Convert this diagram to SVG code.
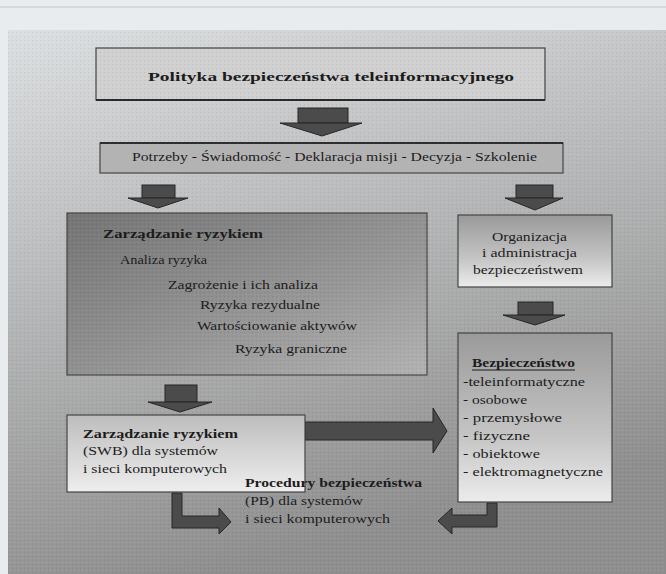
<svg xmlns="http://www.w3.org/2000/svg" width="666" height="574" viewBox="0 0 666 574">
<defs>
<linearGradient id="bg" x1="0" y1="0" x2="0.3" y2="1">
<stop offset="0" stop-color="#dcdfe1"/>
<stop offset="0.45" stop-color="#b8b9ba"/>
<stop offset="1" stop-color="#8f8f8f"/>
</linearGradient>
<linearGradient id="risk" x1="0" y1="0" x2="1" y2="1">
<stop offset="0" stop-color="#747474"/>
<stop offset="0.6" stop-color="#979797"/>
<stop offset="1" stop-color="#b2b2b2"/>
</linearGradient>
<linearGradient id="lightbox" x1="0" y1="0" x2="0" y2="1">
<stop offset="0" stop-color="#9a9a9a"/>
<stop offset="0.6" stop-color="#c4c4c4"/>
<stop offset="1" stop-color="#ececec"/>
</linearGradient>
<linearGradient id="swb" x1="0" y1="0" x2="0" y2="1">
<stop offset="0" stop-color="#bdbdbd"/>
<stop offset="1" stop-color="#eeeeee"/>
</linearGradient>
<pattern id="dots" width="4" height="4" patternUnits="userSpaceOnUse">
<rect x="0" y="0" width="1" height="1" fill="#000" fill-opacity="0.08"/>
<rect x="2" y="2" width="1" height="1" fill="#fff" fill-opacity="0.12"/>
</pattern>
</defs>
<style>
.t{font-family:"Liberation Serif","Times New Roman",serif;fill:#1c1c1c;font-size:13px}
.b{font-weight:bold}
.box{stroke:#454545;stroke-width:1.2}
.arr{fill:#4b4b4b;stroke:#262626;stroke-width:1}
</style>
<rect x="0" y="0" width="666" height="574" fill="#e8ecef"/>
<line x1="0" y1="7" x2="666" y2="7" stroke="#bfc5ca" stroke-width="1"/>
<rect x="8" y="30" width="658" height="544" fill="url(#bg)"/>
<rect x="8" y="30" width="658" height="544" fill="url(#dots)"/>

<g id="connectors">
<g id="arrow-title-band"><rect class="arr" x="298" y="108" width="50" height="15"/><polygon class="arr" points="280,123 362,123 322,136"/></g>
<g id="arrow-band-risk"><rect class="arr" x="142" y="185" width="33" height="13"/><polygon class="arr" points="128,198 188,198 158,208"/></g>
<g id="arrow-band-org"><rect class="arr" x="516" y="185" width="37" height="13"/><polygon class="arr" points="505,198 563,198 535,210"/></g>
<g id="arrow-risk-swb"><rect class="arr" x="165" y="385" width="32" height="17"/><polygon class="arr" points="148,402 212,402 180,412"/></g>
<g id="arrow-org-bez"><rect class="arr" x="518" y="302" width="35" height="13"/><polygon class="arr" points="503,315 565,315 535,325"/></g>
<g id="arrow-swb-bez"><polygon class="arr" points="305,422 433,422 433,408 447,431 433,453 433,440 305,440"/></g>
<g id="arrow-swb-pb"><polygon class="arr" points="172,493 182,493 182,516 219,516 219,508 231,522 219,534 219,528 172,528"/></g>
<g id="arrow-bez-pb"><polygon class="arr" points="487,503 497,503 497,527 452,527 452,534 438,521 452,508 452,515 487,515"/></g>
</g>

<g id="title">
<rect class="box" x="96" y="48" width="449" height="52" fill="#d0d0d0"/>
<rect x="96" y="48" width="449" height="52" fill="url(#dots)"/>
<line x1="96" y1="100" x2="545" y2="100" stroke="#2a2a2a" stroke-width="2"/>
<text class="t b" x="148" y="81" font-size="17" textLength="366" lengthAdjust="spacingAndGlyphs">Polityka bezpieczeństwa teleinformacyjnego</text>
</g>

<g id="band">
<rect class="box" x="100" y="143" width="463" height="30" fill="#b3b3b3"/>
<line x1="100" y1="143" x2="563" y2="143" stroke="#2e2e2e" stroke-width="2"/>
<text class="t" x="132" y="161" textLength="405" lengthAdjust="spacingAndGlyphs">Potrzeby - Świadomość - Deklaracja misji - Decyzja - Szkolenie</text>
</g>

<g id="risk">
<rect class="box" x="67" y="213" width="360" height="162" fill="url(#risk)"/>
<rect x="67" y="213" width="360" height="162" fill="url(#dots)"/>
<text class="t b" x="103" y="238" textLength="160" lengthAdjust="spacingAndGlyphs">Zarządzanie ryzykiem</text>
<text class="t" x="120" y="264" textLength="87" lengthAdjust="spacingAndGlyphs">Analiza ryzyka</text>
<text class="t" x="168" y="289" textLength="150" lengthAdjust="spacingAndGlyphs">Zagrożenie i ich analiza</text>
<text class="t" x="200" y="309" textLength="120" lengthAdjust="spacingAndGlyphs">Ryzyka rezydualne</text>
<text class="t" x="197" y="330" textLength="160" lengthAdjust="spacingAndGlyphs">Wartościowanie aktywów</text>
<text class="t" x="235" y="353" textLength="112" lengthAdjust="spacingAndGlyphs">Ryzyka graniczne</text>
</g>

<g id="org">
<rect class="box" x="458" y="215" width="154" height="72" fill="url(#lightbox)"/>
<text class="t" x="492" y="241" textLength="75" lengthAdjust="spacingAndGlyphs">Organizacja</text>
<text class="t" x="482" y="257" textLength="95" lengthAdjust="spacingAndGlyphs">i administracja</text>
<text class="t" x="473" y="274" textLength="110" lengthAdjust="spacingAndGlyphs">bezpieczeństwem</text>
</g>

<g id="bez">
<rect class="box" x="458" y="333" width="154" height="169" fill="url(#lightbox)"/>
<text class="t b" x="472" y="367" textLength="103" lengthAdjust="spacingAndGlyphs">Bezpieczeństwo</text>
<line x1="472" y1="370" x2="575" y2="370" stroke="#1c1c1c" stroke-width="1"/>
<text class="t" x="463" y="386" textLength="122" lengthAdjust="spacingAndGlyphs">-teleinformatyczne</text>
<text class="t" x="463" y="404" textLength="64" lengthAdjust="spacingAndGlyphs">- osobowe</text>
<text class="t" x="463" y="422" textLength="99" lengthAdjust="spacingAndGlyphs">- przemysłowe</text>
<text class="t" x="463" y="440" textLength="67" lengthAdjust="spacingAndGlyphs">- fizyczne</text>
<text class="t" x="463" y="458" textLength="77" lengthAdjust="spacingAndGlyphs">- obiektowe</text>
<text class="t" x="463" y="476" textLength="140" lengthAdjust="spacingAndGlyphs">- elektromagnetyczne</text>
</g>

<g id="swb">
<rect class="box" x="67" y="415" width="238" height="77" fill="url(#swb)"/>
<text class="t b" x="83" y="438" textLength="155" lengthAdjust="spacingAndGlyphs">Zarządzanie ryzykiem</text>
<text class="t" x="83" y="455" textLength="135" lengthAdjust="spacingAndGlyphs">(SWB) dla systemów</text>
<text class="t" x="83" y="473" textLength="144" lengthAdjust="spacingAndGlyphs">i sieci komputerowych</text>
</g>

<g id="pb">
<text class="t b" x="245" y="487" textLength="177" lengthAdjust="spacingAndGlyphs">Procedury bezpieczeństwa</text>
<text class="t" x="245" y="505" textLength="118" lengthAdjust="spacingAndGlyphs">(PB) dla systemów</text>
<text class="t" x="245" y="523" textLength="145" lengthAdjust="spacingAndGlyphs">i sieci komputerowych</text>
</g>
</svg>
